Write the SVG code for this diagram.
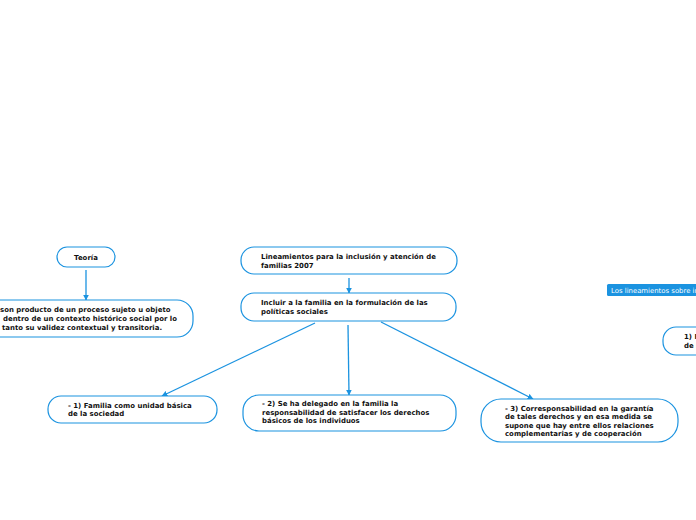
<svg xmlns="http://www.w3.org/2000/svg" width="696" height="520" viewBox="0 0 696 520">
<defs>
<style>
.n{fill:#fff;stroke:#1b93e0;stroke-width:1.2}
.t{font-family:"DejaVu Sans",Verdana,sans-serif;font-weight:bold;font-size:6.95px;fill:#111}
.c{stroke:#1b93e0;stroke-width:1.3;fill:none;marker-end:url(#a)}
</style>
<marker id="a" viewBox="0 0 10 10" refX="9" refY="5" markerWidth="6" markerHeight="6" orient="auto" markerUnits="userSpaceOnUse"><path d="M0,0L10,5L0,10z" fill="#1b93e0"/></marker>
</defs>
<rect width="696" height="520" fill="#fff"/>
<g id="connectors">
<path class="c" d="M86,270V300"/>
<path class="c" d="M349,278V293"/>
<path class="c" d="M315,323L162,396"/>
<path class="c" d="M348,325L349,395"/>
<path class="c" d="M381,322L533,399"/>
</g>
<g id="teoria"><rect class="n" x="57" y="247" width="58" height="20" rx="10"/><text class="t" x="86" y="259.5" text-anchor="middle">Teoría</text></g>
<g id="producto"><rect class="n" x="-100" y="300" width="293" height="37" rx="16"/>
<text class="t"><tspan x="0" y="312">son producto de un proceso sujeto u objeto</tspan><tspan x="3" y="321">dentro de un contexto histórico social por lo</tspan><tspan x="2" y="330">tanto su validez contextual y transitoria.</tspan></text></g>
<g id="lineamientos"><rect class="n" x="241" y="247" width="216" height="27" rx="13"/>
<text class="t"><tspan x="261" y="258.5">Lineamientos para la inclusión y atención de</tspan><tspan x="261" y="267.5">familias 2007</tspan></text></g>
<g id="incluir"><rect class="n" x="241" y="293" width="215" height="28" rx="13"/>
<text class="t"><tspan x="261" y="304.5">Incluir a la familia en la formulación de las</tspan><tspan x="261" y="313.5">políticas sociales</tspan></text></g>
<g id="n1"><rect class="n" x="48" y="396" width="169" height="27" rx="13"/>
<text class="t"><tspan x="68" y="407.5">- 1) Familia como unidad básica</tspan><tspan x="68" y="416">de la sociedad</tspan></text></g>
<g id="n2"><rect class="n" x="243" y="395" width="213" height="36" rx="16"/>
<text class="t"><tspan x="262" y="406">- 2) Se ha delegado en la familia la</tspan><tspan x="262" y="414.5">responsabilidad de satisfacer los derechos</tspan><tspan x="262" y="423">básicos de los individuos</tspan></text></g>
<g id="n3"><rect class="n" x="481" y="399" width="197" height="43" rx="20"/>
<text class="t"><tspan x="505" y="410.5">- 3) Corresponsabilidad en la garantía</tspan><tspan x="505" y="419">de tales derechos y en esa medida se</tspan><tspan x="505" y="427.5">supone que hay entre ellos relaciones</tspan><tspan x="505" y="436">complementarias y de cooperación</tspan></text></g>
<g id="label"><rect x="607" y="284" width="95" height="12" rx="1.5" fill="#1b93e0"/>
<text x="611" y="292.8" font-family="DejaVu Sans,Verdana,sans-serif" font-size="6.9px" fill="#fff">Los lineamientos sobre inc</text></g>
<g id="right"><rect class="n" x="663" y="327" width="60" height="28" rx="13"/>
<text class="t"><tspan x="684" y="339">1) F</tspan><tspan x="684" y="348">de l</tspan></text></g>
</svg>
